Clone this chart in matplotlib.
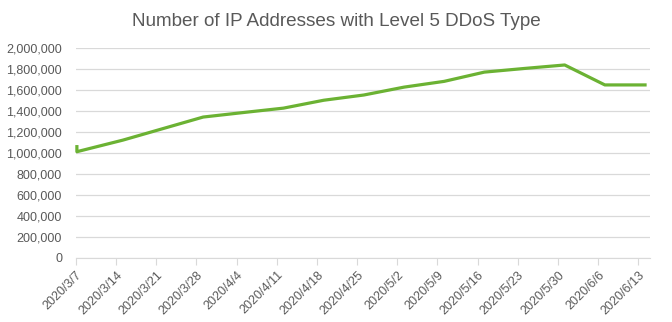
import matplotlib.pyplot as plt
import matplotlib.dates as mdates
import pandas as pd

plt.rcParams['font.family'] = ['Liberation Sans', 'DejaVu Sans']

# weekly counts (first sample recorded twice on the start day)
dates = ['2020-03-07', '2020-03-07', '2020-03-15', '2020-03-22', '2020-03-29',
         '2020-04-05', '2020-04-12', '2020-04-19', '2020-04-26', '2020-05-03',
         '2020-05-10', '2020-05-17', '2020-05-24', '2020-05-31', '2020-06-07',
         '2020-06-14']
counts = [1060000, 1012000, 1122000, 1232000, 1342000,
          1385000, 1427000, 1502000, 1552000, 1627000,
          1682000, 1770000, 1805000, 1838000, 1648000,
          1648000]
tick_dates = pd.date_range('2020-03-07', '2020-06-13', freq='7D')
tick_labels = [f'{d.year}/{d.month}/{d.day}' for d in tick_dates]
yticks = list(range(0, 2000001, 200000))

grey = '#595959'
grid = '#d9d9d9'

fig = plt.figure(figsize=(6.72, 3.22), dpi=100)
ax = fig.add_axes([0.113, 0.199, 0.854, 0.652])

x = pd.to_datetime(dates) + pd.Timedelta(hours=4)
ax.plot(x, counts, color='#6bb233', lw=2.3, solid_joinstyle='round',
        clip_on=False, zorder=3)

ax.set_ylim(0, 2000000)
ax.set_yticks(yticks)
ax.set_yticklabels([f'{v:,}' for v in yticks])
ax.set_xlim(pd.Timestamp('2020-03-07'), pd.Timestamp('2020-06-15'))
ax.set_xticks(tick_dates)
ax.set_xticklabels(tick_labels, rotation=45, ha='right', rotation_mode='anchor')

ax.grid(axis='y', color=grid, lw=0.9)
ax.set_axisbelow(True)
for s in ['top', 'right', 'left']:
    ax.spines[s].set_visible(False)
ax.spines['bottom'].set_color(grid)
ax.tick_params(axis='y', length=0, labelsize=9, labelcolor=grey, pad=10)
ax.tick_params(axis='x', length=5, color=grid, labelsize=9, labelcolor=grey, pad=3)

fig.text(0.5, 0.932, 'Number of IP Addresses with Level 5 DDoS Type',
         ha='center', va='center', fontsize=13.6, color=grey)

fig.savefig('out.png', dpi=100)
